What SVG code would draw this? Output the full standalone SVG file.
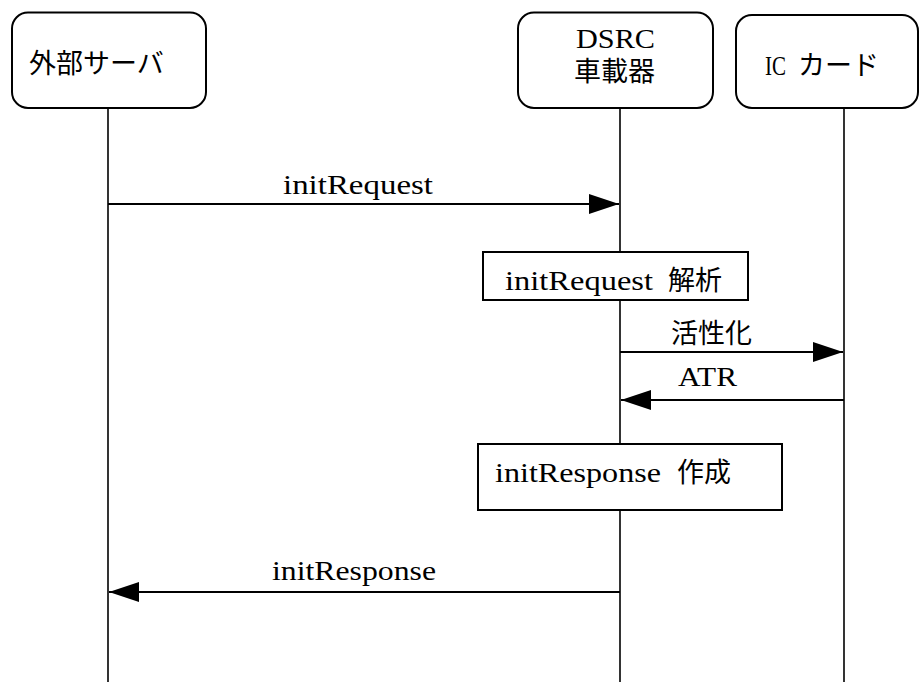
<svg xmlns="http://www.w3.org/2000/svg" width="919" height="682" viewBox="0 0 919 682">
<style>
.bg{fill:#fff}
.actor{fill:#fff;stroke:#000;stroke-width:2}
.proc{fill:#fff;stroke:#000;stroke-width:2}
.life{stroke:#000;stroke-width:1.6;fill:none}
.msg{stroke:#000;stroke-width:2;fill:none}
.lat{font-family:"Liberation Serif","Times New Roman",serif;font-size:28px;fill:#000}
.cjk{font-family:"Noto Sans CJK JP","Noto Sans CJK SC",sans-serif;font-size:27px;fill:#000}
</style>
<defs>
<marker id="ah" markerUnits="userSpaceOnUse" markerWidth="30" markerHeight="20" refX="30" refY="10" orient="auto">
<path d="M0,0 L30,10 L0,20 Z" fill="#000"/>
</marker>
</defs>
<rect class="bg" x="0" y="0" width="919" height="682"/>
<g id="lifelines">
<line class="life" x1="108" y1="108" x2="108" y2="682"/>
<line class="life" x1="620" y1="108" x2="620" y2="682"/>
<line class="life" x1="844" y1="108" x2="844" y2="682"/>
</g>
<g id="external-server">
<rect class="actor" x="12" y="12.5" width="194" height="95.5" rx="16" ry="16"/>
<text class="cjk" x="29" y="73">外部サーバ</text>
</g>
<g id="dsrc">
<rect class="actor" x="518" y="12.5" width="195" height="95.5" rx="16" ry="16"/>
<text class="lat" x="576" y="48" textLength="79" lengthAdjust="spacingAndGlyphs">DSRC</text>
<text class="cjk" x="574" y="81">車載器</text>
</g>
<g id="ic-card">
<rect class="actor" x="736" y="15" width="182" height="93" rx="16" ry="16"/>
<text class="lat" x="765" y="75" textLength="21" lengthAdjust="spacingAndGlyphs">IC</text>
<text class="cjk" x="798" y="75">カード</text>
</g>
<g id="parse">
<rect class="proc" x="483" y="252" width="265" height="48"/>
<text class="lat" x="505" y="290" textLength="148" lengthAdjust="spacingAndGlyphs">initRequest</text>
<text class="cjk" x="668" y="290">解析</text>
</g>
<g id="create">
<rect class="proc" x="478" y="444" width="304" height="66"/>
<text class="lat" x="495" y="482" textLength="166" lengthAdjust="spacingAndGlyphs">initResponse</text>
<text class="cjk" x="677" y="482">作成</text>
</g>
<g id="connectors">
<line class="msg" x1="108" y1="204" x2="619" y2="204" marker-end="url(#ah)"/>
<line class="msg" x1="620" y1="352" x2="843" y2="352" marker-end="url(#ah)"/>
<line class="msg" x1="844" y1="400" x2="621" y2="400" marker-end="url(#ah)"/>
<line class="msg" x1="620" y1="592" x2="109" y2="592" marker-end="url(#ah)"/>
<text class="lat" x="283" y="194" textLength="150" lengthAdjust="spacingAndGlyphs">initRequest</text>
<text class="cjk" x="671" y="343">活性化</text>
<text class="lat" x="678" y="386" textLength="59" lengthAdjust="spacingAndGlyphs">ATR</text>
<text class="lat" x="272" y="580" textLength="164" lengthAdjust="spacingAndGlyphs">initResponse</text>
</g>
</svg>
